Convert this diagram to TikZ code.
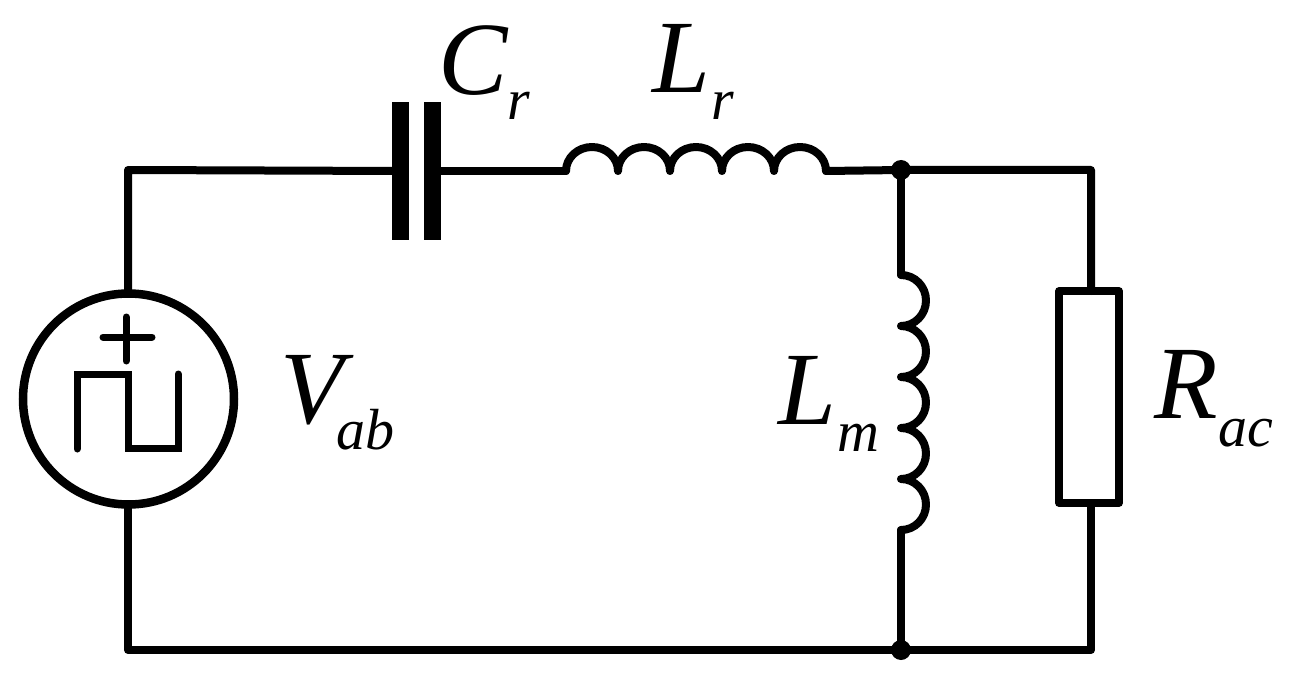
\documentclass[tikz,border=0pt]{standalone}
\usepackage{fontspec}
\setmainfont{Liberation Serif}
\begin{document}
\begin{tikzpicture}[x=1pt,y=-1pt,
  wire/.style={line width=8pt,line cap=round,line join=round},
  glyph/.style={line width=7pt,line cap=round,line join=miter},
  plate/.style={fill=black,draw=none,inner sep=0pt,minimum width=17pt,minimum height=138pt},
  lbl/.style={inner sep=0pt,font=\itshape\fontsize{104}{104}\selectfont,anchor=base west},
  sub/.style={inner sep=0pt,font=\itshape\fontsize{58}{58}\selectfont,anchor=base west},
  dot/.style={circle,fill=black,draw=none,inner sep=0pt,minimum size=20pt}]
\useasboundingbox (0,0) rectangle (1295,679);
\fill[white] (0,0) rectangle (1295,679);
\coordinate (tl) at (128,170);
\coordinate (bl) at (128,650);
\coordinate (tr) at (1091,170);
\coordinate (br) at (1091,650);
\node[dot] (top) at (901,170) {};
\node[dot] (bot) at (901,650) {};
\node[circle,draw,line width=8.5pt,minimum size=211pt,inner sep=0pt,outer sep=0pt] (src) at (128.5,399) {};
\node[plate] (c1) at (400.5,171) {};
\node[plate] (c2) at (432.5,171) {};
\node[draw,line width=7.5pt,line join=round,minimum width=60pt,minimum height=212pt,inner sep=0pt,outer sep=0pt] (rac) at (1089,397) {};
\coordinate (lr1) at (566,171);
\coordinate (lr2) at (826,171);
\coordinate (lm1) at (901,275);
\coordinate (lm2) at (901,530);
\draw[wire] (src.north -| tl) -- (tl) -- (c1.center);
\draw[wire] (c2.center) -- (lr1);
\draw[wire] (lr2) -- (top.center) -- (tr) -- (rac.north -| tr);
\draw[wire] (top.center) -- (lm1);
\draw[wire] (lm2) -- (bot.center);
\draw[wire] (src.south -| bl) -- (bl) -- (br) -- (rac.south -| br);
% series inductor
\draw[wire] (lr1) arc[start angle=180,end angle=360,x radius=26,y radius=24]
  arc[start angle=180,end angle=360,x radius=26,y radius=24]
  arc[start angle=180,end angle=360,x radius=26,y radius=24]
  arc[start angle=180,end angle=360,x radius=26,y radius=24]
  arc[start angle=180,end angle=360,x radius=26,y radius=24]
  -- (lr2);
% magnetising inductor
\draw[wire] (lm1) arc[start angle=-90,end angle=90,x radius=25,y radius=25.5]
  arc[start angle=-90,end angle=90,x radius=25,y radius=25.5]
  arc[start angle=-90,end angle=90,x radius=25,y radius=25.5]
  arc[start angle=-90,end angle=90,x radius=25,y radius=25.5]
  arc[start angle=-90,end angle=90,x radius=25,y radius=25.5] -- (lm2);
% square wave and plus
\draw[glyph] (77,449) -- (77,374) -- (128,374) -- (128,448) -- (178,448) -- (178,374);
\draw[glyph] (103,337) -- (152,337);
\draw[glyph] (126,317) -- (126,361);
\node[lbl] (cr) at (438,95) {C};
\node[sub] (crs) at (507,120) {r};
\node[lbl] (lr) at (652,93) {L};
\node[sub] (lrs) at (711,120) {r};
\node[lbl] (vab) at (280,423) {V};
\node[sub] (vabs) at (336,449) {ab};
\node[lbl] (lm) at (778,424) {L};
\node[sub] (lms) at (837,451) {m};
\node[lbl] (rac2) at (1154,418) {R};
\node[sub] (racs) at (1218,446) {ac};
\end{tikzpicture}
\end{document}
